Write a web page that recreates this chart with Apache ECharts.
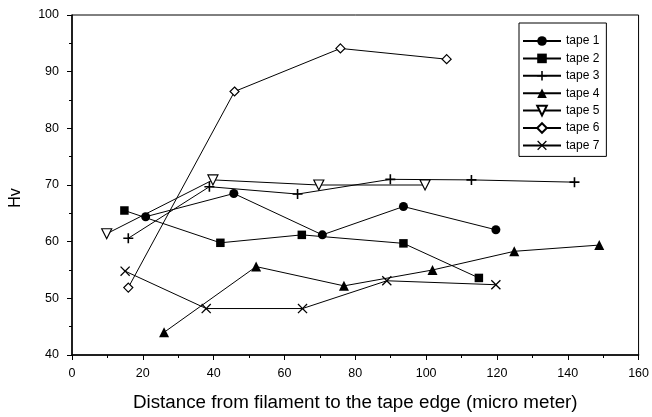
<!DOCTYPE html>
<html>
<head>
<meta charset="utf-8">
<script src="https://cdn.jsdelivr.net/npm/echarts@6/dist/echarts.min.js"></script>
<style>html,body{margin:0;padding:0;background:#fff}#c{width:652px;height:417px}</style>
</head>
<body>
<div id="c"></div>
<script>
const names = ['tape 1','tape 2','tape 3','tape 4','tape 5','tape 6','tape 7'];
const tape1X = [20.8, 45.7, 70.7, 93.6, 119.7];
const tape1Y = [64.4, 68.5, 61.2, 66.2, 62.1];
const tape2X = [14.8, 41.9, 64.9, 93.6, 114.9];
const tape2Y = [65.5, 59.8, 61.2, 59.7, 53.6];
const tape3X = [15.9, 38.8, 63.7, 89.9, 112.8, 141.9];
const tape3Y = [60.6, 69.7, 68.4, 71.0, 70.9, 70.5];
const tape4X = [26.0, 52.0, 76.8, 101.8, 124.9, 148.9];
const tape4Y = [44.0, 55.6, 52.2, 55.0, 58.3, 59.4];
const tape5X = [9.8, 39.8, 69.7, 99.7];
const tape5Y = [61.4, 70.9, 70.0, 70.0];
const tape6X = [15.9, 45.9, 75.8, 105.8];
const tape6Y = [51.9, 86.5, 94.1, 92.2];
const tape7X = [15.0, 37.9, 65.1, 88.9, 119.7];
const tape7Y = [54.8, 48.2, 48.2, 53.1, 52.4];
const xTicks = [0, 20, 40, 60, 80, 100, 120, 140, 160];
const yTicks = [40, 50, 60, 70, 80, 90, 100];

const xs = [tape1X, tape2X, tape3X, tape4X, tape5X, tape6X, tape7X];
const ys = [tape1Y, tape2Y, tape3Y, tape4Y, tape5Y, tape6Y, tape7Y];

const PLUS = 'path://M0,4.2H4.2V0H5.8V4.2H10V5.8H5.8V10H4.2V5.8H0Z';
const CROSS = 'path://M0,0.9L0.9,0L5,4.1L9.1,0L10,0.9L5.9,5L10,9.1L9.1,10L5,5.9L0.9,10L0,9.1L4.1,5Z';
const TRIDOWN = 'path://M0,0L10,0L5,9Z';
const styles = [
  {symbol:'circle', size:9, fill:'#000'},
  {symbol:'rect', size:8.5, fill:'#000'},
  {symbol:PLUS, size:10, fill:'#000'},
  {symbol:'triangle', size:10, fill:'#000'},
  {symbol:TRIDOWN, size:10, fill:'#fff'},
  {symbol:'diamond', size:9, fill:'#fff'},
  {symbol:CROSS, size:10, fill:'#000'}
];

const series = names.map((n, i) => ({
  name: n,
  type: 'line',
  data: xs[i].map((x, k) => [x, ys[i][k]]),
  symbol: styles[i].symbol,
  symbolSize: styles[i].size,
  showAllSymbol: true,
  lineStyle: {color:'#000', width:1},
  itemStyle: {color: styles[i].fill, borderColor:'#000', borderWidth: styles[i].fill === '#fff' ? 1.2 : 0, opacity:1},
  emphasis: {disabled:true},
  animation: false,
  z: 2
}));

const chart = echarts.init(document.getElementById('c'), null, {renderer:'canvas'});
const font = 'Liberation Sans, Arial, sans-serif';
chart.setOption({
  backgroundColor:'#fff',
  animation:false,
  textStyle:{fontFamily:font, color:'#000'},
  grid:{left:72, right:11, top:15, bottom:62, show:true, borderColor:'#000', borderWidth:1, backgroundColor:'transparent'},
  legend:{
    orient:'vertical', left:519, top:23,
    data:names,
    itemWidth:38, itemHeight:12, itemGap:5.4,
    padding:[12,7,5,3],
    borderColor:'#000', borderWidth:1, backgroundColor:'#fff',
    textStyle:{fontFamily:font, fontSize:12, color:'#000'},
    selectedMode:false
  },
  xAxis:{
    type:'value', min:xTicks[0], max:xTicks[xTicks.length-1], interval:20,
    name:'Distance from filament to the tape edge (micro meter)',
    nameLocation:'middle', nameGap:38,
    nameTextStyle:{fontFamily:font, fontSize:18.8, color:'#000'},
    axisLine:{show:true, onZero:false, lineStyle:{color:'#000', width:1.5}},
    axisTick:{show:true, inside:false, length:5, lineStyle:{color:'#000', width:1}},
    minorTick:{show:true, splitNumber:2, length:3, lineStyle:{color:'#000', width:1}},
    axisLabel:{fontFamily:font, fontSize:12.5, color:'#000', margin:12},
    splitLine:{show:false}
  },
  yAxis:{
    type:'value', min:yTicks[0], max:yTicks[yTicks.length-1], interval:10,
    name:'Hv', nameLocation:'middle', nameGap:48, nameRotate:90,
    nameTextStyle:{fontFamily:font, fontSize:16, color:'#000', padding:[0,26,0,0]},
    axisLine:{show:true, onZero:false, lineStyle:{color:'#000', width:1.5}},
    axisTick:{show:true, inside:false, length:5, lineStyle:{color:'#000', width:1}},
    minorTick:{show:true, splitNumber:2, length:3, lineStyle:{color:'#000', width:1}},
    axisLabel:{fontFamily:font, fontSize:12.5, color:'#000', margin:13},
    splitLine:{show:false}
  },
  series: series
});
</script>
</body>
</html>
